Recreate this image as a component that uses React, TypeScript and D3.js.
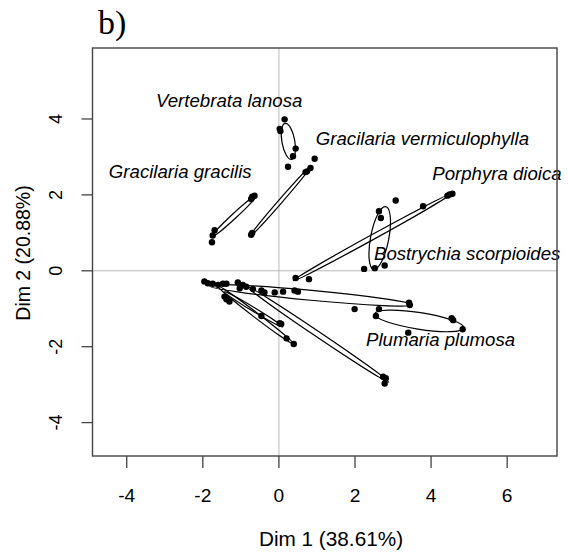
import React from "react";
import * as d3 from "d3";

type Pt = [number, number];

// scores on Dim 1 / Dim 2, per species
const vertebrata: Pt[] = [[0.15, 3.99], [0.04, 3.68], [0.02, 3.74], [0.44, 3.22], [0.37, 3.02], [0.24, 2.74]];
const vermiculophylla: Pt[] = [[0.94, 2.95], [0.83, 2.71], [0.74, 2.62], [0.7, 2.6], [-0.7, 1.0], [-0.73, 0.95]];
const gracilis: Pt[] = [[-0.64, 1.98], [-0.7, 1.95], [-0.73, 1.89], [-1.69, 1.07], [-1.74, 0.93], [-1.76, 0.75]];
const porphyra: Pt[] = [[4.56, 2.03], [4.49, 2.01], [4.43, 1.98], [3.79, 1.7], [0.44, -0.19], [0.79, -0.22]];
const bostrychia: Pt[] = [[2.63, 1.57], [2.68, 1.39], [3.07, 1.85], [2.24, 0.05], [2.52, 0.07], [2.78, 0.14]];
const plumaria: Pt[] = [[2.55, -1.19], [2.63, -1.01], [4.54, -1.25], [4.58, -1.3], [4.83, -1.54], [3.4, -1.63]];
const groupG: Pt[] = [[3.42, -0.84], [3.44, -0.9], [1.99, -1.01], [-1.08, -0.31], [-0.95, -0.37], [-0.86, -0.42], [-1.47, -0.34], [-1.38, -0.34], [-1.03, -0.46]];
const groupH: Pt[] = [[2.74, -2.79], [2.78, -2.97], [2.81, -2.83], [-0.68, -0.48], [-0.46, -0.52], [-0.38, -0.57], [-0.11, -0.57], [0.11, -0.55], [0.41, -0.52], [0.5, -0.55]];
const groupI: Pt[] = [[0.2, -1.78], [0.39, -1.93], [-1.96, -0.28], [-1.87, -0.33], [-1.74, -0.34], [-1.6, -0.37]];
const groupJ: Pt[] = [[-0.46, -1.19], [0.02, -1.38], [0.06, -1.4], [-1.43, -0.68], [-1.38, -0.75], [-1.3, -0.81]];

const groupPoints = [vertebrata, vermiculophylla, gracilis, porphyra, bostrychia, plumaria, groupG, groupH, groupI, groupJ];
const groupNames = [
  "Vertebrata lanosa",
  "Gracilaria vermiculophylla",
  "Gracilaria gracilis",
  "Porphyra dioica",
  "Bostrychia scorpioides",
  "Plumaria plumosa",
  "", "", "", "",
];

// ellipse main axis ends and half width (Dim units)
const ellipseFrom: Pt[] = [[0.163, 3.884], [-0.758, 0.911], [-1.753, 0.906], [0.374, -0.264], [2.808, 1.691], [2.518, -1.136], [-1.824, -0.396], [-0.824, -0.423], [-1.613, -0.396], [-1.429, -0.555]];
const ellipseTo: Pt[] = [[0.334, 2.933], [0.834, 2.748], [-0.595, 1.981], [4.492, 2.008], [2.492, 0.04], [4.861, -1.506], [3.518, -0.898], [2.887, -2.933], [0.387, -1.929], [0.097, -1.48]];
const ellipseHalfWidth = [0.17, 0.05, 0.065, 0.065, 0.24, 0.22, 0.13, 0.074, 0.065, 0.05];

// where the species names sit
const labelAt: Pt[] = [[-3.23, 4.32], [0.97, 3.31], [-4.47, 2.44], [4.03, 2.39], [2.5, 0.29], [2.29, -1.98]];

const xTicks = [-4, -2, 0, 2, 4, 6];
const yTicks = [-4, -2, 0, 2, 4];
const xTitle = "Dim 1 (38.61%)";
const yTitle = "Dim 2 (20.88%)";

const W = 568;
const H = 552;
const box = { left: 92.5, right: 557, top: 48, bottom: 456 };
const stretch = 1.065;
const sans = "'Liberation Sans', Arial, Helvetica, sans-serif";

export default function App() {
  const x = d3.scaleLinear().domain([-4.9, 7.31]).range([box.left, box.right]);
  const y = d3.scaleLinear().domain([-4.88, 5.87]).range([box.bottom, box.top]);
  const unitY = Math.abs(y(0) - y(1));

  return (
    <svg width={W} height={H} style={{ position: "absolute", left: 0, top: 0, background: "#fff" }}>
      <text x={98} y={34} fontFamily="'Liberation Serif', 'Times New Roman', serif" fontSize={34}>b)</text>

      {/* reference lines through the origin */}
      <line x1={x(0)} x2={x(0)} y1={box.top} y2={box.bottom} stroke="#b8b8b8" strokeWidth={1} />
      <line x1={box.left} x2={box.right} y1={y(0)} y2={y(0)} stroke="#b8b8b8" strokeWidth={1} />

      {groupPoints.map((pts, g) => {
        const [a, b] = [ellipseFrom[g], ellipseTo[g]];
        const x1 = x(a[0]), y1 = y(a[1]), x2 = x(b[0]), y2 = y(b[1]);
        const cx = (x1 + x2) / 2, cy = (y1 + y2) / 2;
        const rx = Math.hypot(x2 - x1, y2 - y1) / 2;
        const ang = (Math.atan2(y2 - y1, x2 - x1) * 180) / Math.PI;
        return (
          <g key={g}>
            <ellipse cx={cx} cy={cy} rx={rx} ry={ellipseHalfWidth[g] * unitY}
              transform={`rotate(${ang},${cx},${cy})`} fill="none" stroke="#000" strokeWidth={1.2} />
            {pts.map((p, i) => (
              <circle key={i} cx={x(p[0])} cy={y(p[1])} r={3.2} fill="#000" />
            ))}
          </g>
        );
      })}

      {labelAt.map((p, i) => (
        <text key={i} transform={`translate(${x(p[0])},${y(p[1])}) scale(${stretch},1)`}
          fontFamily={sans} fontStyle="italic" fontSize={17.5} fill="#000">{groupNames[i]}</text>
      ))}

      <rect x={box.left} y={box.top} width={box.right - box.left} height={box.bottom - box.top}
        fill="none" stroke="#444" strokeWidth={1.4} />

      {xTicks.map((t) => (
        <g key={t}>
          <line x1={x(t)} x2={x(t)} y1={box.bottom} y2={box.bottom + 12} stroke="#444" strokeWidth={1.3} />
          <text transform={`translate(${x(t)},502) scale(${stretch},1)`} textAnchor="middle"
            fontFamily={sans} fontSize={18}>{t}</text>
        </g>
      ))}
      {yTicks.map((t) => (
        <g key={t}>
          <line x1={box.left - 11} x2={box.left} y1={y(t)} y2={y(t)} stroke="#444" strokeWidth={1.3} />
          <text transform={`translate(62,${y(t)}) scale(${stretch},1) rotate(-90)`} textAnchor="middle"
            fontFamily={sans} fontSize={18}>{t}</text>
        </g>
      ))}

      <text transform={`translate(331,546) scale(${stretch},1)`} textAnchor="middle" fontFamily={sans} fontSize={19.5}>{xTitle}</text>
      <text transform={`translate(30,253) scale(${stretch},1) rotate(-90)`} textAnchor="middle" fontFamily={sans} fontSize={19.5}>{yTitle}</text>
    </svg>
  );
}
